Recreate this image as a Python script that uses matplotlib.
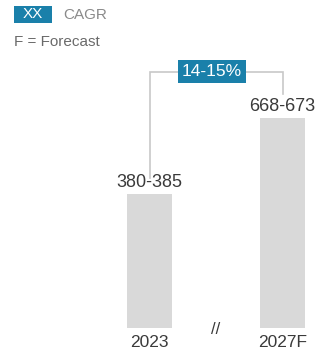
import matplotlib
matplotlib.use("Agg")
import matplotlib.pyplot as plt
from matplotlib.patches import Rectangle

plt.rcParams['font.family'] = ['Liberation Sans', 'DejaVu Sans']

# data
years = ["2023", "2027F"]
mid_values = [382.5, 670.5]
value_labels = ["380-385", "668-673"]
cagr_label = "14-15%"

BAR_COLOR = "#d9d9d9"
TEXT_COLOR = "#3a3a3a"
CAGR_BLUE = "#1a80aa"
GREY = "#8a8a8a"
LINE_GREY = "#c8c8c8"

W, H = 321, 354
fig = plt.figure(figsize=(W / 100, H / 100), dpi=100)
ax = fig.add_axes([0, 0, 1, 1])
ax.set_xlim(-1.124, 1.289)
ax.set_ylim(-223.5, 1117)
ax.axis("off")

floor = -125  # bars start from a truncated baseline
xs = list(range(len(years)))
ax.bar(xs, [v - floor for v in mid_values], bottom=floor, width=0.34,
       color=BAR_COLOR, zorder=2)

for x, v, lab in zip(xs, mid_values, value_labels):
    ax.annotate(lab, (x, v), xytext=(0, 2), textcoords="offset points",
                ha="center", va="bottom", fontsize=13, color=TEXT_COLOR)

# x labels under the bars
for x, yr in zip(xs, years):
    ax.text(x, -197, yr, ha="center", va="baseline", fontsize=12.5, color=TEXT_COLOR)
fig.text(216 / W, 1 - 330 / H, "//", ha="center", va="center", fontsize=12,
         color=TEXT_COLOR)

# CAGR bracket
top = max(mid_values) + 175
ax.plot([0, 0, 1, 1], [mid_values[0] + 60, top, top, mid_values[1] + 90],
        color=LINE_GREY, lw=1.2, zorder=1, solid_joinstyle="miter")
ax.text(0.47, top, cagr_label, ha="center", va="center", fontsize=12.5,
        color="white", zorder=3,
        bbox=dict(boxstyle="square,pad=0.22", fc=CAGR_BLUE, ec="none"))

# legend in the top left corner
fig.patches.append(Rectangle((14 / W, 1 - 23 / H), 38 / W, 17 / H,
                             transform=fig.transFigure, fc=CAGR_BLUE, ec="none"))
fig.text(33 / W, 1 - 14.5 / H, "XX", ha="center", va="center", fontsize=11,
         color="white")
fig.text(63 / W, 1 - 15 / H, "CAGR", ha="left", va="center",
         fontsize=11, color=GREY)
fig.text(14 / W, 1 - 41.5 / H, "F = Forecast", ha="left", va="center",
         fontsize=11, color="#6a6a6a")

fig.savefig("out.png", dpi=100)
